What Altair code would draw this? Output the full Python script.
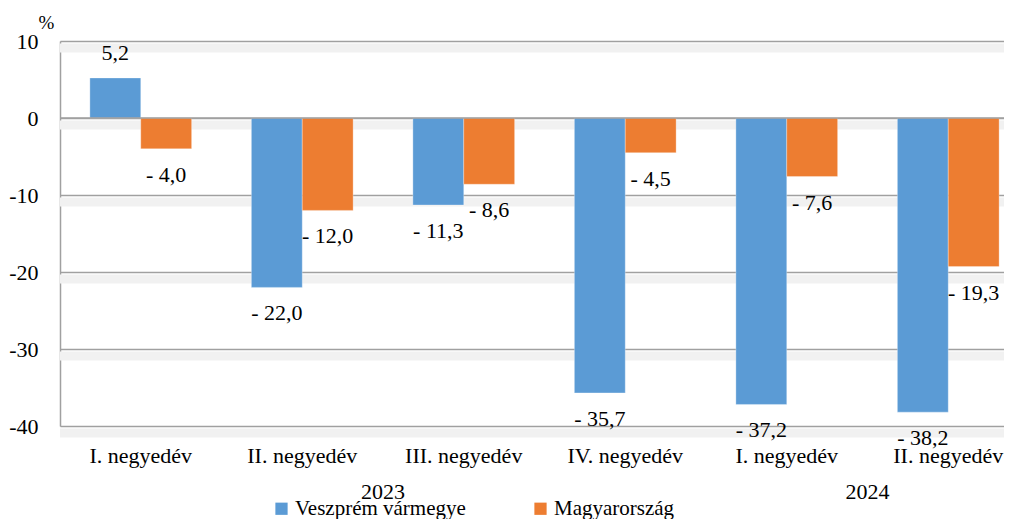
import altair as alt
import pandas as pd

categories = ["I. negyedév", "II. negyedév", "III. negyedév", "IV. negyedév", "I. negyedév ", "II. negyedév "]
cat_years = ["2023", "2023", "2023", "2023", "2024", "2024"]
series_names = ["Veszprém vármegye", "Magyarország"]
veszprem = [5.2, -22.0, -11.3, -35.7, -37.2, -38.2]
magyar = [-4.0, -12.0, -8.6, -4.5, -7.6, -19.3]
y_ticks = [10, 0, -10, -20, -30, -40]
colors = ["#5b9bd5", "#ed7d31"]

FONT = "Liberation Serif"
FS = 22


def fmt(v):
    s = f"{abs(v):.1f}".replace(".", ",")
    return ("- " + s) if v < 0 else s


rows = []
for c, a, b in zip(categories, veszprem, magyar):
    for name, v in zip(series_names, [a, b]):
        rows.append({"cat": c, "series": name, "value": v, "label": fmt(v)})
df = pd.DataFrame(rows)

years = []
for y in sorted(set(cat_years)):
    idx = [i for i, cy in enumerate(cat_years) if cy == y]
    years.append({"year": y, "pos": sum(idx) / len(idx)})
ydf = pd.DataFrame(years)
grid_df = pd.DataFrame({"g": y_ticks})

W = 944
RANGE = 969
xscale = alt.Scale(domain=categories, range=[0, RANGE], paddingInner=0.37, paddingOuter=0.185)
yscale = alt.Scale(domain=[-40, 10])

yaxis = alt.Axis(values=y_ticks, title="%", titleAngle=0, titleFont=FONT,
                 titleFontSize=19, titleFontWeight="normal", titleColor="#000000",
                 titleX=-14, titleY=-9, titleAlign="center",
                 labelFont=FONT, labelFontSize=FS, labelColor="#000000",
                 labelExpr="'' + datum.value",
                 labelPadding=22, ticks=False, grid=True, gridColor="#a0a0a0",
                 gridWidth=1.5, domainColor="#a0a0a0", domainWidth=1.5)

xaxis = alt.Axis(title=None, labelAngle=0, ticks=False, domain=False,
                 labelFont=FONT, labelFontSize=FS, labelColor="#000000",
                 labelPadding=19)

xoff = alt.XOffset("series:N", sort=series_names, scale=alt.Scale(paddingInner=0, paddingOuter=0))

shadow = alt.Chart(grid_df).mark_rule(color="#f1f1f1", strokeWidth=9, yOffset=7).encode(
    y=alt.Y("g:Q", scale=yscale, axis=yaxis)
)

bars = alt.Chart(df).mark_bar(stroke="#ffffff", strokeWidth=0.5, strokeOpacity=0.6).encode(
    x=alt.X("cat:N", scale=xscale, sort=categories, axis=xaxis),
    xOffset=xoff,
    y=alt.Y("value:Q", scale=yscale, axis=yaxis),
    color=alt.Color("series:N", sort=series_names,
                    scale=alt.Scale(domain=series_names, range=colors),
                    legend=alt.Legend(title=None, orient="none", legendX=211, legendY=457,
                                      direction="horizontal", symbolType="square",
                                      symbolSize=150, symbolStrokeWidth=0, labelFont=FONT,
                                      labelFontSize=21, labelColor="#000000", labelLimit=0,
                                      columnPadding=64, symbolOffset=0, labelOffset=3)),
)


def label_layer(pos, dy):
    sel = df[(df["value"] >= 0) == pos]
    return alt.Chart(sel).mark_text(font=FONT, fontSize=FS, color="#000000",
                                    baseline="middle", dy=dy).encode(
        x=alt.X("cat:N", scale=xscale, sort=categories, axis=None),
        xOffset=xoff,
        y=alt.Y("value:Q", scale=yscale, axis=yaxis),
        text="label:N",
    )


zero = alt.Chart(pd.DataFrame({"z": [0]})).mark_rule(color="#a0a0a0", strokeWidth=1.5).encode(
    y=alt.Y("z:Q", scale=yscale, axis=yaxis)
)

year_text = alt.Chart(ydf).mark_text(font=FONT, fontSize=FS, color="#000000", baseline="middle").encode(
    x=alt.X("pos:Q", scale=alt.Scale(domain=[-0.5, 5.5], range=[0, RANGE]), axis=None),
    y=alt.value(451),
    text="year:N",
)

chart = alt.layer(shadow, bars, zero, label_layer(True, -25), label_layer(False, 26),
                  year_text).resolve_scale(x="independent").properties(
    width=W, height=385,
    autosize=alt.AutoSizeParams(type="none"),
    padding={"left": 52, "top": 33, "right": 0, "bottom": 93},
).configure_view(stroke=None).configure(background="#ffffff")

chart.save("out.html", embed_options={"renderer": "svg", "actions": False})
